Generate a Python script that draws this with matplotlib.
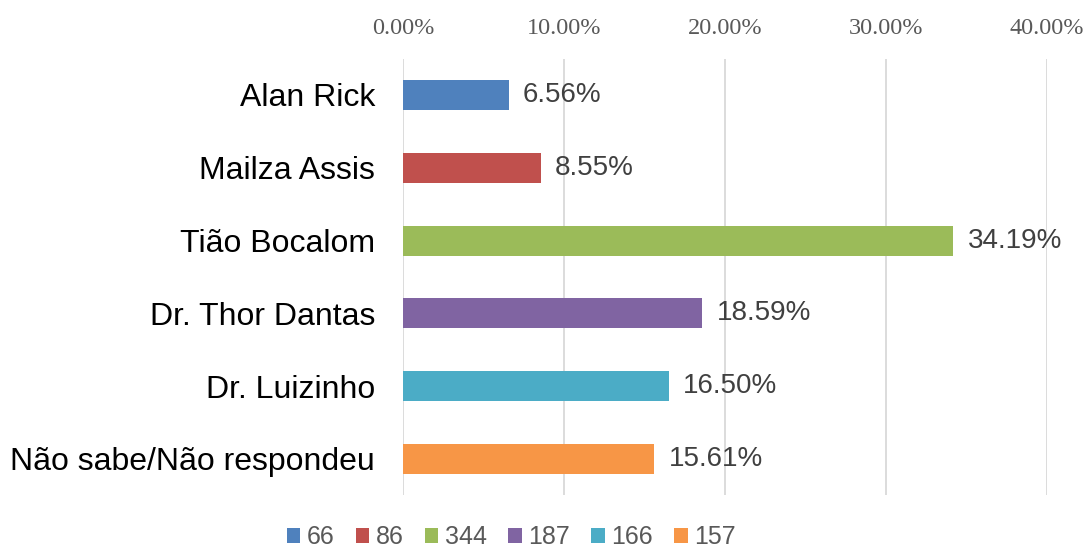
import matplotlib
matplotlib.use("Agg")
import matplotlib.pyplot as plt
from matplotlib.patches import Patch
from matplotlib.ticker import FuncFormatter

categories = ["Alan Rick", "Mailza Assis", "Tião Bocalom", "Dr. Thor Dantas",
              "Dr. Luizinho", "Não sabe/Não respondeu"]
percents = [6.56, 8.55, 34.19, 18.59, 16.50, 15.61]
counts = ["66", "86", "344", "187", "166", "157"]
colors = ["#4F81BD", "#C0504D", "#9BBB59", "#8064A2", "#4BACC6", "#F79646"]
xticks = [0, 10, 20, 30, 40]

fig = plt.figure(figsize=(10.91, 5.49), dpi=100)
ax = fig.add_axes([403/1091, 1-495.4/549, (1047-403)/1091, (495.4-58.6)/549])

y = list(range(len(categories)))
ax.barh(y, percents, height=0.41, color=colors, zorder=3)
for yi, p in zip(y, percents):
    ax.text(p + 0.9, yi, f"{p:.2f}%", va="center", ha="left",
            fontsize=20, color="#404040", family="Liberation Sans", zorder=4)

ax.set_xlim(0, 40)
ax.set_ylim(len(categories) - 0.5, -0.5)
ax.set_yticks(y)
ax.set_yticklabels(categories, fontsize=23, family="Liberation Sans", color="black")
ax.set_xticks(xticks)
ax.xaxis.set_major_formatter(FuncFormatter(lambda v, _: f"{v:.2f}%"))
ax.xaxis.tick_top()
for lab in ax.get_xticklabels():
    lab.set_family("Liberation Serif")
    lab.set_fontsize(17.5)
    lab.set_color("#595959")
ax.tick_params(axis="both", length=0)
ax.tick_params(axis="x", pad=14)
ax.tick_params(axis="y", pad=20)
ax.grid(axis="x", color="#D9D9D9", linewidth=1.3, zorder=0)
for s in ax.spines.values():
    s.set_visible(False)

handles = [Patch(facecolor=c, edgecolor="none") for c in colors]
fig.legend(handles, counts, loc="center", bbox_to_anchor=(511/1091, 1-537/549),
           ncol=6, frameon=False, prop={"family": "Liberation Sans", "size": 18},
           handlelength=0.55, handleheight=0.55, handletextpad=0.25, columnspacing=0.85,
           labelcolor="#595959", borderpad=0.1)

fig.savefig("out.png", dpi=100, facecolor="white")
